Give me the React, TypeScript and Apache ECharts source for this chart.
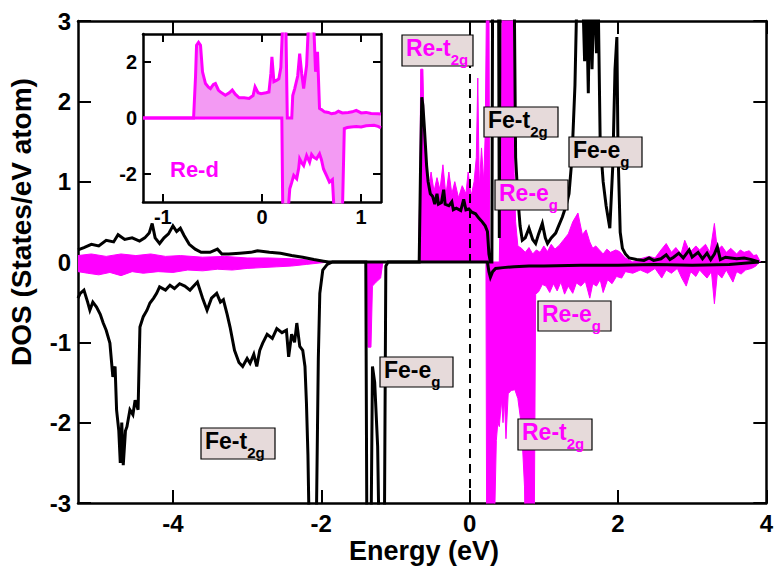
import React, { useEffect, useRef } from 'react';
import * as echarts from 'echarts';

// ---------- Main panel: Re (magenta, filled) ----------
const reUpE = [-5.28, -5.1, -4.9, -4.7, -4.5, -4.3, -4.1, -3.9, -3.6, -3.3, -3.0, -2.7, -2.4, -2.1, -1.9,
  -0.69, -0.67, -0.66, -0.63, -0.61, -0.58, -0.55, -0.52, -0.48, -0.44, -0.40, -0.36, -0.32, -0.28, -0.24, -0.2,
  -0.15, -0.1, -0.05, -0.02, 0.02, 0.06, 0.09, 0.11, 0.13, 0.16, 0.19, 0.21, 0.23, 0.26, 0.27, 0.28, 0.40, 0.42,
  0.44, 0.58, 0.60, 0.62, 0.65, 0.7, 0.75, 0.8, 0.85, 0.9, 0.95, 1.0, 1.05, 1.1, 1.15, 1.21, 1.27, 1.33, 1.39,
  1.46, 1.52, 1.57, 1.62, 1.66, 1.7, 1.75, 1.8, 1.85, 1.9, 1.97, 2.02, 2.1, 2.2, 2.3, 2.42, 2.5, 2.58, 2.65, 2.72,
  2.78, 2.85, 2.9, 2.97, 3.05, 3.1, 3.18, 3.24, 3.3, 3.34, 3.4, 3.46, 3.52, 3.6, 3.65, 3.7, 3.77, 3.83, 3.87, 3.92];
const reUpV = [0.08, 0.1, 0.07, 0.1, 0.08, 0.1, 0.07, 0.08, 0.06, 0.07, 0.05, 0.05, 0.04, 0.02, 0,
  0, 1.0, 2.4, 2.4, 1.5, 1.17, 0.92, 1.12, 0.88, 1.05, 0.9, 1.21, 0.83, 1.12, 0.85, 1.0,
  0.8, 0.95, 0.85, 1.12, 0.82, 1.0, 1.3, 2.29, 0.92, 1.42, 1.0, 1.6, 3.5, 3.5, 0.2, 0, 0, 1.2,
  3.5, 3.5, 1.1, 0.5, 0.2, 0.17, 0.12, 0.18, 0.1, 0.15, 0.12, 0.2, 0.13, 0.22, 0.16, 0.21, 0.28, 0.35, 0.5,
  0.61, 0.34, 0.4, 0.25, 0.17, 0.2, 0.15, 0.1, 0.16, 0.12, 0.15, 0.13, 0.05, 0.0, 0.04, 0.07, 0.05, 0.15, 0.23, 0.12,
  0.18, 0.1, 0.27, 0.12, 0.2, 0.15, 0.22, 0.12, 0.48, 0.15, 0.2, 0.12, 0.17, 0.1, 0.15, 0.12, 0.14, 0.08, 0.09, 0];

const reDnE = [-5.28, -5.15, -5.0, -4.85, -4.7, -4.55, -4.4, -4.2, -4.0, -3.8, -3.6, -3.4, -3.2, -3.0, -2.8, -2.6,
  -2.4, -2.2, -2.0, -1.9, -1.38, -1.37, -1.33, -1.31, -1.26, -1.2, -1.17, 0.22, 0.23, 0.33, 0.36, 0.38, 0.40, 0.43,
  0.45, 0.47, 0.49, 0.52, 0.56, 0.61, 0.65, 0.7, 0.74, 0.75, 0.87, 0.89, 0.93, 0.98, 1.03, 1.08, 1.13, 1.18, 1.23,
  1.28, 1.33, 1.39, 1.44, 1.5, 1.56, 1.62, 1.66, 1.71, 1.76, 1.8, 1.86, 1.92, 1.98, 2.05, 2.1, 2.2, 2.3, 2.4, 2.5,
  2.59, 2.65, 2.72, 2.8, 2.86, 2.92, 2.98, 3.05, 3.1, 3.2, 3.26, 3.3, 3.34, 3.4, 3.46, 3.55, 3.6, 3.66, 3.72, 3.8,
  3.86, 3.9];
const reDnV = [-0.12, -0.14, -0.16, -0.13, -0.17, -0.12, -0.14, -0.12, -0.13, -0.1, -0.11, -0.09, -0.1, -0.08, -0.07, -0.06,
  -0.05, -0.03, -0.01, 0, 0, -1.06, -1.06, -0.3, -0.25, -0.2, 0, 0, -3.5, -3.5, -2.22, -2.0, -2.05, -1.72,
  -2.0, -1.72, -2.2, -1.64, -1.6, -1.59, -1.7, -2.05, -2.8, -3.5, -3.5, -0.4, -0.37, -0.28, -0.3, -0.38, -0.27, -0.36, -0.25,
  -0.4, -0.3, -0.39, -0.26, -0.3, -0.24, -0.45, -0.27, -0.3, -0.22, -0.38, -0.22, -0.27, -0.18, -0.2, -0.12, -0.14, -0.1, -0.14, -0.08,
  -0.2, -0.1, -0.14, -0.08, -0.2, -0.3, -0.12, -0.18, -0.1, -0.2, -0.12, -0.52, -0.14, -0.2, -0.1, -0.25, -0.12, -0.15, -0.1, -0.08,
  -0.05, 0];

// ---------- Main panel: Fe (black line) ----------
const feUpE = [-5.28, -5.2, -5.1, -5.0, -4.9, -4.8, -4.74, -4.65, -4.55, -4.45, -4.38, -4.32, -4.28, -4.24, -4.18,
  -4.12, -4.06, -4.0, -3.95, -3.9, -3.85, -3.78, -3.7, -3.62, -3.5, -3.4, -3.34, -3.25, -3.1, -2.95, -2.86, -2.7,
  -2.55, -2.4, -2.25, -2.1, -1.97, -1.9, -0.68, -0.66, -0.645, -0.63, -0.61, -0.58, -0.56, -0.53, -0.5, -0.47,
  -0.44, -0.42, -0.38, -0.35, -0.33, -0.28, -0.24, -0.22, -0.18, -0.12, -0.08, -0.05, -0.01, 0.03, 0.08, 0.12,
  0.17, 0.21, 0.24, 0.26, 0.28, 0.30, 0.31, 0.39, 0.40, 0.41, 0.60, 0.62, 0.65, 0.68, 0.71, 0.75, 0.8, 0.85,
  0.89, 0.93, 0.98, 1.02, 1.05, 1.1, 1.16, 1.2, 1.25, 1.3, 1.34, 1.38, 1.42, 1.45, 1.52, 1.55, 1.57, 1.6, 1.62,
  1.65, 1.68, 1.71, 1.73, 1.76, 1.8, 1.84, 1.89, 1.93, 1.96, 1.985, 2.0, 2.03, 2.06, 2.1, 2.15, 2.25, 2.35, 2.42,
  2.48, 2.58, 2.65, 2.7, 2.75, 2.82, 2.88, 2.96, 3.0, 3.08, 3.14, 3.2, 3.25, 3.3, 3.34, 3.38, 3.45, 3.52, 3.6, 3.7,
  3.8, 3.9];
const feUpV = [0.15, 0.18, 0.22, 0.2, 0.27, 0.25, 0.34, 0.28, 0.3, 0.26, 0.3, 0.36, 0.48, 0.3, 0.23,
  0.3, 0.35, 0.45, 0.38, 0.42, 0.33, 0.22, 0.16, 0.12, 0.12, 0.16, 0.1, 0.1, 0.11, 0.12, 0.14, 0.12,
  0.11, 0.08, 0.06, 0.03, 0.01, 0, 0, 1.3, 2.05, 1.95, 1.67, 1.2, 1.0, 0.85, 0.82, 0.72,
  0.85, 0.72, 0.74, 0.9, 0.72, 0.7, 0.75, 0.65, 0.67, 0.64, 0.78, 0.65, 0.66, 0.62, 0.6, 0.55,
  0.5, 0.45, 0.38, 0.1, 0, 0, 3.5, 3.5, 0.3, 3.5, 3.5, 1.3, 0.8, 0.45, 0.27, 0.3, 0.42, 0.28,
  0.23, 0.35, 0.48, 0.3, 0.23, 0.3, 0.36, 0.45, 0.56, 0.7, 0.85, 1.3, 2.2, 3.5, 3.5, 2.5, 3.5, 2.1, 3.5,
  2.4, 3.5, 2.6, 3.5, 1.5, 1.0, 0.7, 0.42, 1.2, 2.4, 2.8, 1.4, 0.37, 0.17, 0.1, 0.05, 0.03, 0.02, 0.05,
  0.02, 0.04, 0.09, 0.03, 0.06, 0.11, 0.05, 0.15, 0.06, 0.12, 0.04, 0.11, 0.03, 0.1, 0.19, 0.03, 0.06, 0.05, 0.04, 0.05,
  0.03, 0];

const feDnE = [-5.28, -5.25, -5.2, -5.15, -5.12, -5.08, -5.03, -4.98, -4.94, -4.9, -4.85, -4.81, -4.78, -4.76, -4.73,
  -4.71, -4.69, -4.67, -4.64, -4.62, -4.58, -4.54, -4.51, -4.47, -4.445, -4.4, -4.35, -4.31, -4.26, -4.22, -4.18,
  -4.1, -4.04, -3.98, -3.91, -3.84, -3.77, -3.72, -3.67, -3.6, -3.54, -3.48, -3.41, -3.36, -3.32, -3.27, -3.23,
  -3.17, -3.11, -3.06, -3.0, -2.96, -2.91, -2.87, -2.83, -2.79, -2.73, -2.66, -2.6, -2.53, -2.47, -2.44, -2.4, -2.36,
  -2.33, -2.29, -2.25, -2.22, -2.2, -2.18, -2.16, -2.07, -2.04, -2.02, -1.98, -1.92, -1.85, -1.40, -1.385, -1.33,
  -1.31, -1.28, -1.26, -1.24, -1.22, -1.15, -1.13, -1.1, 0.24, 0.26, 0.28, 0.31, 0.35, 0.45, 0.6, 0.8, 1.0, 1.5,
  2.0, 2.5, 3.0, 3.5, 3.9];
const feDnV = [-0.45, -0.39, -0.35, -0.5, -0.6, -0.5, -0.56, -0.65, -0.76, -0.85, -1.01, -1.43, -1.3, -1.84, -2.1,
  -2.5, -2.0, -2.53, -2.1, -2.05, -1.84, -1.9, -1.72, -1.84, -0.81, -0.68, -0.6, -0.51, -0.45, -0.39, -0.31,
  -0.35, -0.29, -0.33, -0.27, -0.3, -0.35, -0.3, -0.25, -0.45, -0.6, -0.45, -0.39, -0.5, -0.47, -0.65, -0.81,
  -1.1, -1.25, -1.3, -1.2, -1.26, -1.15, -1.3, -1.1, -1.01, -0.9, -0.95, -0.83, -0.88, -0.85, -1.18, -0.9, -1.0,
  -0.76, -1.05, -1.1, -1.3, -1.76, -2.4, -3.5, -3.5, -1.2, -0.39, -0.1, -0.03, 0, 0, -3.5, -3.5,
  -1.3, -1.5, -1.9, -2.3, -3.5, -3.5, -0.05, 0, 0, -0.12, -0.19, -0.12, -0.08, -0.07, -0.06, -0.05, -0.05, -0.04,
  -0.04, -0.03, -0.04, -0.03, 0];

// ---------- Inset: Re-d ----------
const insUpE = [-1.2, -0.69, -0.67, -0.66, -0.64, -0.62, -0.6, -0.57, -0.54, -0.52, -0.49, -0.47, -0.44, -0.42, -0.37,
  -0.33, -0.3, -0.27, -0.23, -0.18, -0.13, -0.09, -0.07, -0.04, -0.01, 0.04, 0.07, 0.09, 0.1, 0.12, 0.15, 0.17, 0.19,
  0.21, 0.24, 0.255, 0.3, 0.31, 0.33, 0.36, 0.38, 0.4, 0.42, 0.45, 0.47, 0.52, 0.54, 0.56, 0.58, 0.6, 0.63, 0.67,
  0.7, 0.74, 0.77, 0.81, 0.87, 0.91, 0.95, 1.0, 1.05, 1.1, 1.17, 1.2];
const insUpV = [0, 0, 1.5, 2.6, 2.7, 2.6, 1.65, 1.23, 1.1, 1.05, 1.2, 1.23, 1.0, 0.93, 0.81,
  0.9, 1.0, 0.85, 0.72, 0.72, 0.7, 0.8, 1.11, 0.9, 0.87, 0.9, 0.93, 1.6, 2.18, 1.3, 1.35, 1.4, 1.8,
  3.5, 3.5, 0, 0, 0.8, 1.05, 1.5, 2.3, 1.6, 1.05, 1.89, 3.5, 3.5, 1.65, 2.36, 0.34, 0.3, 0.22, 0.2,
  0.15, 0.18, 0.24, 0.18, 0.2, 0.22, 0.27, 0.18, 0.2, 0.16, 0.15, 0.14];

const insDnE = [-1.2, 0.2, 0.21, 0.26, 0.28, 0.3, 0.32, 0.35, 0.37, 0.38, 0.4, 0.42, 0.45, 0.47, 0.48, 0.5, 0.52,
  0.55, 0.58, 0.6, 0.62, 0.65, 0.68, 0.71, 0.73, 0.81, 0.83, 0.86, 0.9, 0.95, 1.0, 1.05, 1.13, 1.17, 1.2];
const insDnV = [0, 0, -3.5, -3.5, -2.53, -2.3, -2.05, -2.17, -1.8, -1.46, -1.6, -1.7, -1.34, -1.5, -1.58, -1.3, -1.4,
  -1.46, -1.28, -1.5, -1.82, -2.05, -2.29, -2.2, -3.5, -3.5, -0.38, -0.34, -0.32, -0.3, -0.32, -0.28, -0.26, -0.3, -0.35];

// ---------- Axis ticks / labels ----------
const mainXTicks = [-4, -2, 0, 2, 4];
const mainYTicks = [-3, -2, -1, 0, 1, 2, 3];
const insetXTicks = [-1, 0, 1];
const insetYTicks = [-2, 0, 2];

// ---------- Annotation texts ----------
const annotations = [
  { main: 'Re-t', sub: '2g', color: '#ff00ff' },
  { main: 'Fe-t', sub: '2g', color: '#000000' },
  { main: 'Fe-e', sub: 'g', color: '#000000' },
  { main: 'Re-e', sub: 'g', color: '#ff00ff' },
  { main: 'Re-e', sub: 'g', color: '#ff00ff' },
  { main: 'Re-t', sub: '2g', color: '#ff00ff' },
  { main: 'Fe-e', sub: 'g', color: '#000000' },
  { main: 'Fe-t', sub: '2g', color: '#000000' },
];
// box layout (left, top, width, height) for each annotation, in pixels
const annotationBoxes = [
  [402, 35, 71, 31],
  [484, 107, 74, 30],
  [569, 137, 73, 30],
  [495, 180, 73, 30],
  [538, 301, 73, 30],
  [518, 419, 74, 31],
  [380, 357, 73, 30],
  [201, 428, 74, 31],
];

const zip = (e: number[], v: number[]) => e.map((x, i) => [x, v[i]]);

const FONT = '"Liberation Sans", Arial, Helvetica, sans-serif';
const MAGENTA = '#ff00ff';

export default function App() {
  const ref = useRef<HTMLDivElement>(null);

  useEffect(() => {
    if (!ref.current) return;
    const chart = echarts.init(ref.current, null, { renderer: 'svg' });

    const ctx = document.createElement('canvas').getContext('2d');
    const mainFont = `bold 23px ${FONT}`;
    const subFont = `bold 15px ${FONT}`;
    const measure = (t: string) => {
      if (!ctx) return t.length * 11;
      ctx.font = mainFont;
      return ctx.measureText(t).width;
    };

    const graphics: any[] = [];
    annotations.forEach((a, i) => {
      const [l, t, w, h] = annotationBoxes[i];
      graphics.push({
        type: 'rect', z: 100, silent: true,
        shape: { x: l, y: t, width: w, height: h },
        style: { fill: '#e6dada', stroke: '#000', lineWidth: 1.2 },
      });
      graphics.push({
        type: 'text', z: 101, silent: true, x: l + 4, y: t + 12.5,
        style: { text: a.main, font: mainFont, fill: a.color, textAlign: 'left', textVerticalAlign: 'middle', align: 'left', verticalAlign: 'middle' },
      });
      graphics.push({
        type: 'text', z: 101, silent: true, x: l + 4 + measure(a.main), y: t + 24.5,
        style: { text: a.sub, font: subFont, fill: a.color, textAlign: 'left', textVerticalAlign: 'middle', align: 'left', verticalAlign: 'middle' },
      });
    });
    graphics.push({
      type: 'text', z: 101, silent: true, x: 170, y: 169,
      style: { text: 'Re-d', font: `bold 22px ${FONT}`, fill: MAGENTA, textAlign: 'left', textVerticalAlign: 'middle', align: 'left', verticalAlign: 'middle' },
    });
    graphics.push({
      type: 'text', z: 101, silent: true, x: 424, y: 551,
      style: { text: 'Energy (eV)', font: `bold 27px ${FONT}`, fill: '#000', textAlign: 'center', textVerticalAlign: 'middle', align: 'center', verticalAlign: 'middle' },
    });
    graphics.push({
      type: 'text', z: 101, silent: true, x: 21, y: 222, rotation: Math.PI / 2,
      style: { text: 'DOS (States/eV atom)', font: `bold 28px ${FONT}`, fill: '#000', textAlign: 'center', textVerticalAlign: 'middle', align: 'center', verticalAlign: 'middle' },
    });

    const axisLine = { show: true, onZero: false, lineStyle: { color: '#000', width: 2.5 } };
    const labelStyle = (size: number, margin: number, values: number[]) => ({
      show: true, customValues: values, fontSize: size, fontWeight: 'bold', color: '#000', fontFamily: FONT, margin,
    });
    const tickStyle = (len: number, values: number[]) => ({
      show: true, inside: true, length: len, customValues: values, lineStyle: { color: '#000', width: 2 },
    });

    const lineSeries = (data: number[][], xi: number, color: string, width: number, fill?: string) => ({
      type: 'line', xAxisIndex: xi, yAxisIndex: xi, data, symbol: 'none', showSymbol: false,
      silent: true, clip: true, animation: false,
      lineStyle: { color, width, join: 'miter' },
      itemStyle: { color },
      areaStyle: fill ? { color: fill, opacity: 1, origin: 0 } : undefined,
    });

    const option: any = {
      animation: false,
      backgroundColor: '#ffffff',
      grid: [
        { left: 78, top: 21, width: 690, height: 482 },
        { left: 143, top: 34, width: 238, height: 168 },
      ],
      xAxis: [
        { type: 'value', gridIndex: 0, min: -5.28, max: 4, position: 'bottom', axisLine,
          axisTick: tickStyle(13, mainXTicks), axisLabel: labelStyle(24, 8, mainXTicks), splitLine: { show: false } },
        { type: 'value', gridIndex: 0, min: -5.28, max: 4, position: 'top', axisLine,
          axisTick: tickStyle(13, mainXTicks), axisLabel: { show: false }, splitLine: { show: false } },
        { type: 'value', gridIndex: 1, min: -1.2, max: 1.2, position: 'bottom', axisLine,
          axisTick: tickStyle(8, insetXTicks), axisLabel: labelStyle(20, 5, insetXTicks), splitLine: { show: false } },
        { type: 'value', gridIndex: 1, min: -1.2, max: 1.2, position: 'top', axisLine,
          axisTick: tickStyle(8, insetXTicks), axisLabel: { show: false }, splitLine: { show: false } },
      ],
      yAxis: [
        { type: 'value', gridIndex: 0, min: -3, max: 3, position: 'left', axisLine,
          axisTick: tickStyle(13, mainYTicks), axisLabel: labelStyle(24, 7, mainYTicks), splitLine: { show: false } },
        { type: 'value', gridIndex: 0, min: -3, max: 3, position: 'right', axisLine,
          axisTick: tickStyle(13, mainYTicks), axisLabel: { show: false }, splitLine: { show: false } },
        { type: 'value', gridIndex: 1, min: -3, max: 3, position: 'left', axisLine,
          axisTick: tickStyle(8, insetYTicks), axisLabel: labelStyle(20, 6, insetYTicks), splitLine: { show: false } },
        { type: 'value', gridIndex: 1, min: -3, max: 3, position: 'right', axisLine,
          axisTick: tickStyle(8, insetYTicks), axisLabel: { show: false }, splitLine: { show: false } },
      ],
      series: [
        lineSeries(zip(reUpE, reUpV), 0, MAGENTA, 1, MAGENTA),
        lineSeries(zip(reDnE, reDnV), 0, MAGENTA, 1, MAGENTA),
        lineSeries(zip(feDnE, feDnV), 0, '#000', 3),
        {
          ...lineSeries(zip(feUpE, feUpV), 0, '#000', 3),
          markLine: {
            silent: true, symbol: ['none', 'none'], animation: false,
            label: { show: false },
            lineStyle: { color: '#000', type: [9, 6], width: 2 },
            data: [{ xAxis: 0 }],
          },
        },
        lineSeries(zip(insUpE, insUpV), 2, MAGENTA, 3, '#f39af3'),
        lineSeries(zip(insDnE, insDnV), 2, MAGENTA, 3, '#f39af3'),
      ],
      graphic: graphics,
    };

    chart.setOption(option);
    return () => chart.dispose();
  }, []);

  return (
    <div
      ref={ref}
      style={{ position: 'fixed', left: 0, top: 0, width: 776, height: 568, background: '#fff' }}
    />
  );
}
